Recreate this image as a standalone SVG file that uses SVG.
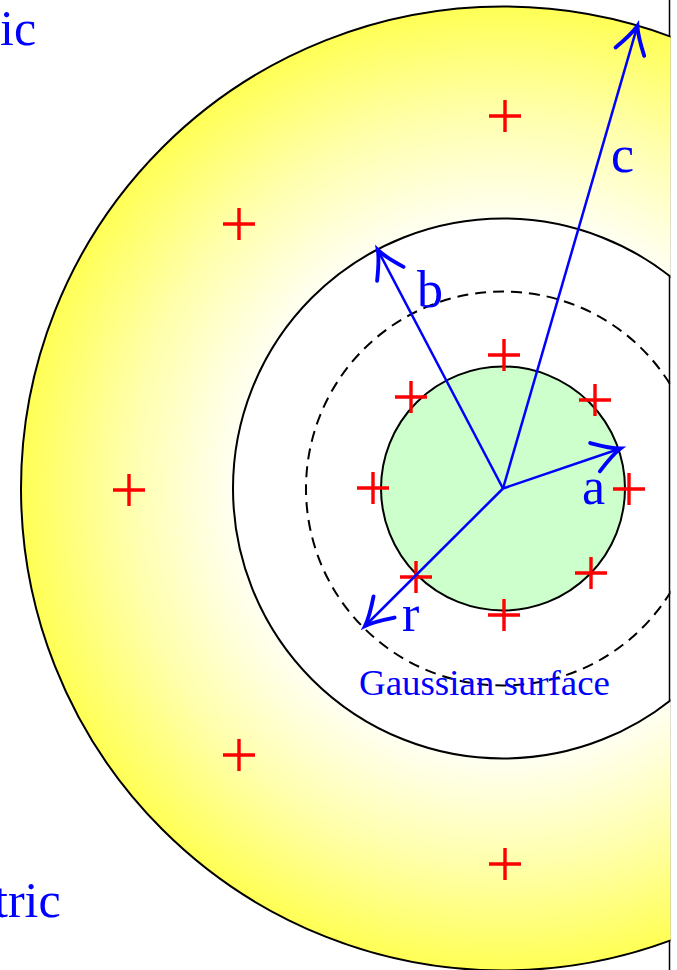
<svg xmlns="http://www.w3.org/2000/svg" width="677" height="970" viewBox="0 0 677 970">
<style>
.edge{fill:none;stroke:#000;stroke-width:2}
.dash{fill:none;stroke:#000;stroke-width:2;stroke-dasharray:11 7}
.plus{fill:none;stroke:#f00;stroke-width:3.4}
.arrow{fill:none;stroke:#00f;stroke-width:2.5;marker-end:url(#tip)}
.lbl{font-family:"Liberation Serif","Times New Roman",serif;fill:#00f}
</style>
<defs>
<radialGradient id="shade" gradientUnits="userSpaceOnUse" cx="503" cy="488.5" r="482">
<stop offset="0.56" stop-color="#fffff2"/>
<stop offset="0.78" stop-color="#ffffac"/>
<stop offset="1" stop-color="#ffff55"/>
</radialGradient>
<clipPath id="clip"><rect x="0" y="0" width="670.5" height="970"/></clipPath>
<marker id="tip" markerUnits="userSpaceOnUse" orient="auto" refX="0" refY="0" markerWidth="40" markerHeight="40" viewBox="-22 -12 26 24" overflow="visible">
<path d="M-17.5,-9.7 Q-6,-2 0,0 Q-6,2 -17.5,9.7" fill="none" stroke="#00f" stroke-width="2.5" stroke-linecap="round"/>
</marker>
<path id="pl" d="M-16,0H16M0,-16V16"/>
</defs>
<line x1="669.5" y1="0" x2="669.5" y2="970" stroke="#000" stroke-width="1.5"/>
<g clip-path="url(#clip)">
<g id="shell">
<path d="M21,488.5a482,482 0 1,0 964,0a482,482 0 1,0 -964,0ZM233,488.5a270,270 0 1,0 540,0a270,270 0 1,0 -540,0Z" fill="url(#shade)" fill-rule="evenodd"/>
<circle class="edge" cx="503" cy="488.5" r="482"/>
<circle class="edge" cx="503" cy="488.5" r="270"/>
</g>
<g id="gaussian-surface">
<circle class="dash" cx="503" cy="488.5" r="197"/>
</g>
<g id="core">
<circle cx="503" cy="488.5" r="122" fill="#ccffcc" stroke="#000" stroke-width="2"/>
</g>
<g id="charges" class="plus">
<use href="#pl" x="504" y="355"/>
<use href="#pl" x="411" y="397"/>
<use href="#pl" x="595" y="400"/>
<use href="#pl" x="373" y="488"/>
<use href="#pl" x="629" y="489"/>
<use href="#pl" x="416" y="577"/>
<use href="#pl" x="591" y="573"/>
<use href="#pl" x="504" y="615"/>
<use href="#pl" x="505" y="116"/>
<use href="#pl" x="239" y="224"/>
<use href="#pl" x="129" y="490"/>
<use href="#pl" x="239" y="755"/>
<use href="#pl" x="505" y="864"/>
</g>
<g id="connectors">
<path class="arrow" d="M503,488.5L637.4,25.8"/>
<path class="arrow" d="M503,488.5L377.8,250"/>
<path class="arrow" d="M503,488.5L620.5,448.5"/>
<path class="arrow" d="M503,488.5L365,626"/>
</g>
<g id="labels" class="lbl">
<text x="611" y="172" font-size="52">c</text>
<text x="417" y="307" font-size="52">b</text>
<text x="582" y="504" font-size="52">a</text>
<text x="402" y="631" font-size="52">r</text>
<text x="359" y="695" font-size="35" textLength="251" lengthAdjust="spacingAndGlyphs">Gaussian surface</text>
<text x="0" y="45" font-size="50">ic</text>
<text x="-6" y="917" font-size="50">tric</text>
</g>
</g>
</svg>
